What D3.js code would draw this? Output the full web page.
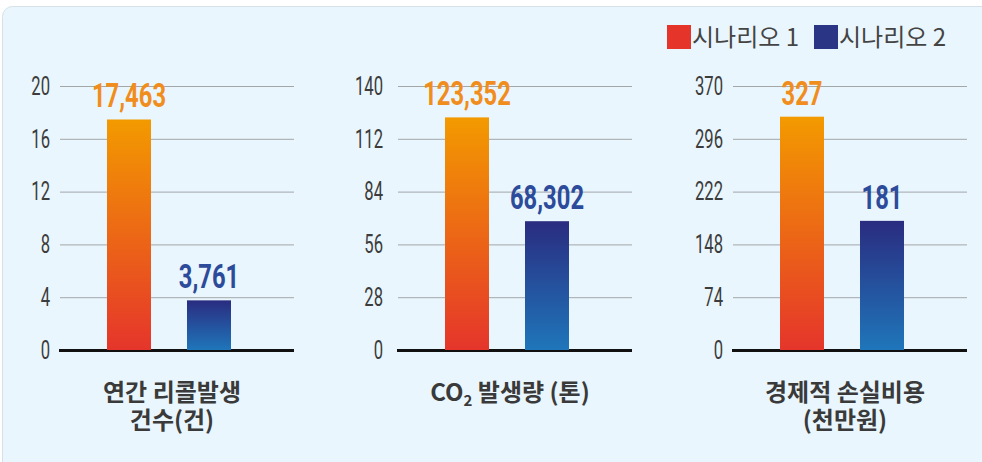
<!DOCTYPE html>
<html>
<head>
<meta charset="utf-8">
<script src="https://cdn.jsdelivr.net/npm/d3@7"></script>
<style>
  body { margin: 0; background: #fff; }
  svg { display: block; }
</style>
</head>
<body>
<script>
// chart data
const scenarios = ["시나리오 1", "시나리오 2"];
const categoryLines = [["연간 리콜발생", "건수(건)"], ["CO2 발생량 (톤)"], ["경제적 손실비용", "(천만원)"]];
const scenario1Values = [17.463, 123.352, 327];
const scenario2Values = [3.761, 68.302, 181];
const scenario1Labels = ["17,463", "123,352", "327"];
const scenario2Labels = ["3,761", "68,302", "181"];
const axisTicks = [
  [0, 4, 8, 12, 16, 20],
  [0, 28, 56, 84, 112, 140],
  [0, 74, 148, 222, 296, 370]
];

const W = 982, H = 462;
const panelLeft = [60, 398, 733];
const panelPad = [10, 15, 10];
const gridW = 234;
const y0 = 350, yTop = 86;
const tickScale = 0.64;

const svg = d3.select("body").append("svg")
    .attr("width", W)
    .attr("height", H);

const defs = svg.append("defs");
const grads = [["#f39a00", "#e5352b"], ["#2a2c80", "#1f76ba"]];
grads.forEach((c, i) => {
  let g = defs.append("linearGradient")
      .attr("id", "grad" + i)
      .attr("x1", 0).attr("y1", 0).attr("x2", 0).attr("y2", 1);
  g.append("stop").attr("offset", "0%").attr("stop-color", c[0]);
  g.append("stop").attr("offset", "100%").attr("stop-color", c[1]);
});

// panel background
svg.append("rect")
    .attr("x", 2.5).attr("y", 6.5)
    .attr("width", W + 20).attr("height", H + 20)
    .attr("rx", 10)
    .attr("fill", "#e9f6fd")
    .attr("stroke", "#d6e1e7");

// legend
const legendColors = ["#e5352b", "#2a3585"];
const legendX = [667, 814];
scenarios.forEach((s, i) => {
  svg.append("rect")
      .attr("x", legendX[i]).attr("y", 25)
      .attr("width", 24).attr("height", 24)
      .attr("fill", legendColors[i]);
  svg.append("text")
      .attr("x", legendX[i] + 25).attr("y", 46)
      .attr("font-family", "'Noto Sans CJK KR', sans-serif")
      .attr("font-size", 24)
      .attr("fill", "#444")
      .text(s);
});

const labelColors = ["#f08d1c", "#2d4b9b"];

categoryLines.forEach((lines, i) => {
  let x0 = panelLeft[i];
  let g = svg.append("g").attr("transform", `translate(${x0},0)`);
  let ticks = axisTicks[i];

  let y = d3.scaleLinear()
      .domain([0, ticks[ticks.length - 1]])
      .range([y0, yTop]);
  let x = d3.scaleBand()
      .domain(scenarios)
      .range([0, 218])
      .paddingInner(0.45)
      .paddingOuter(0.5875);

  let axis = g.append("g")
      .call(d3.axisLeft(y).tickValues(ticks).tickSize(-gridW).tickPadding(panelPad[i]));
  axis.select(".domain").remove();
  axis.selectAll(".tick line")
      .attr("stroke", "#a3a7aa")
      .attr("stroke-width", 1);
  axis.selectAll(".tick text")
      .attr("font-family", "Roboto, 'DejaVu Sans', sans-serif")
      .attr("font-size", 26)
      .attr("fill", "#3c3c3c")
      .attr("x", -panelPad[i] / tickScale)
      .attr("transform", `scale(${tickScale},1)`);

  // baseline
  g.append("line")
      .attr("x1", -1).attr("x2", gridW)
      .attr("y1", y(0) + 0.5).attr("y2", y(0) + 0.5)
      .attr("stroke", "#111")
      .attr("stroke-width", 3);

  let vals = [scenario1Values[i], scenario2Values[i]];
  let labs = [scenario1Labels[i], scenario2Labels[i]];

  g.selectAll(".bar")
      .data(vals)
      .enter().append("rect")
      .attr("class", "bar")
      .attr("x", (d, j) => x(scenarios[j]))
      .attr("y", d => y(d))
      .attr("width", x.bandwidth())
      .attr("height", d => y(0) - y(d))
      .attr("fill", (d, j) => `url(#grad${j})`);

  g.selectAll(".val")
      .data(vals)
      .enter().append("text")
      .attr("class", "val")
      .attr("text-anchor", "middle")
      .attr("transform", (d, j) => `translate(${x(scenarios[j]) + x.bandwidth() / 2},${y(d) - 12}) scale(0.7,1)`)
      .attr("font-family", "Roboto, 'DejaVu Sans', sans-serif")
      .attr("font-weight", "bold")
      .attr("font-size", 34)
      .attr("fill", (d, j) => labelColors[j])
      .text((d, j) => labs[j]);

  // category label, one text per line
  lines.forEach((line, k) => {
    let t = g.append("text")
        .attr("text-anchor", "middle")
        .attr("x", 112)
        .attr("y", 401 + k * 28)
        .attr("font-family", "'Noto Sans CJK KR', sans-serif")
        .attr("font-weight", "bold")
        .attr("font-size", 24)
        .attr("fill", "#3a3a3a");
    if (line.startsWith("CO2")) {
      t.append("tspan").text("CO");
      t.append("tspan").attr("font-size", 15).attr("dy", 5).text("2");
      t.append("tspan").attr("dy", -5).text(line.slice(3));
    } else {
      t.text(line);
    }
  });
});
</script>
</body>
</html>
